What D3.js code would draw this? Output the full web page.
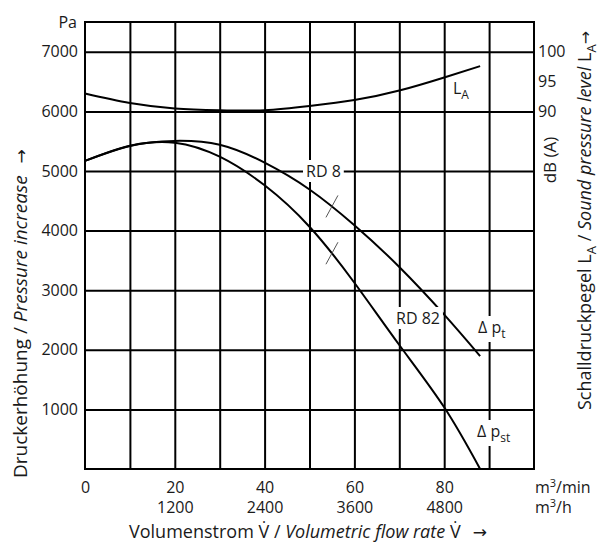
<!DOCTYPE html>
<html>
<head>
<meta charset="utf-8">
<script src="https://cdn.jsdelivr.net/npm/d3@7"></script>
<style>
  body { margin: 0; background: #fff; }
  svg { display: block; font-family: "Open Sans", sans-serif; }
</style>
</head>
<body>
<svg id="chart" width="600" height="547"></svg>
<script>
// Kennlinie: Volumenstrom in m3/min
const flow = [0, 10, 20, 30, 40, 50, 60, 70, 80, 88];
const pTotal = [5170, 5425, 5505, 5440, 5140, 4690, 4090, 3390, 2590, 1895];
const pStatic = [5170, 5420, 5475, 5240, 4760, 4065, 3125, 2080, 1035, 0];
const soundLevel = [93.0, 91.4, 90.5, 90.2, 90.2, 90.9, 91.9, 93.5, 95.7, 97.6];

const pressureTicks = [1000, 2000, 3000, 4000, 5000, 6000, 7000];
const flowTicks = [0, 20, 40, 60, 80];
const flowTicksH = [20, 40, 60, 80];
const dbTicks = [90, 95, 100];
const markerFlow = 55;

const svg = d3.select("#chart");
const ink = "#1a1a1a";

const plotL = 85, plotR = 534, plotT = 22, plotB = 469;

const x = d3.scaleLinear().domain([0, 100]).range([plotL, plotR]);
const y = d3.scaleLinear().domain([0, 7500]).range([plotB, plotT]);
// 90 dB liegt auf 6000 Pa, 100 dB auf 7000 Pa
const yDb = d3.scaleLinear().domain([30, 105]).range([plotB, plotT]);

// Gitter
const gridX = svg.append("g")
  .attr("transform", `translate(0,${plotB})`)
  .call(d3.axisBottom(x).tickValues(d3.range(10, 100, 10)).tickSize(-(plotB - plotT)).tickFormat(""));
const gridY = svg.append("g")
  .attr("transform", `translate(${plotL},0)`)
  .call(d3.axisLeft(y).tickValues(pressureTicks).tickSize(-(plotR - plotL)).tickFormat(""));
[gridX, gridY].forEach(g => {
  g.select(".domain").remove();
  g.selectAll("line").attr("stroke", "#000").attr("stroke-width", 2);
});

// Rahmen
svg.append("rect")
  .attr("x", plotL).attr("y", plotT)
  .attr("width", plotR - plotL).attr("height", plotB - plotT)
  .attr("fill", "none").attr("stroke", "#000").attr("stroke-width", 2);

// Achsenbeschriftung
const axL = svg.append("g")
  .attr("transform", `translate(${plotL},0)`)
  .call(d3.axisLeft(y).tickValues(pressureTicks).tickSize(0).tickPadding(7).tickFormat(d => d));
const axB = svg.append("g")
  .attr("transform", `translate(0,${plotB})`)
  .call(d3.axisBottom(x).tickValues(flowTicks).tickSize(0).tickPadding(13).tickFormat(d => d));
const axB2 = svg.append("g")
  .attr("transform", `translate(0,${plotB})`)
  .call(d3.axisBottom(x).tickValues(flowTicksH).tickSize(0).tickPadding(33).tickFormat(d => d * 60));
const axR = svg.append("g")
  .attr("transform", `translate(${plotR},0)`)
  .call(d3.axisRight(yDb).tickValues(dbTicks).tickSize(0).tickPadding(4).tickFormat(d => d));
[axL, axB, axB2, axR].forEach(g => {
  g.select(".domain").remove();
  g.selectAll("text")
    .attr("font-family", "Open Sans, sans-serif")
    .attr("font-size", 16)
    .attr("fill", ink);
});

// Kurven
const line = d3.line()
  .x((d, i) => x(flow[i]))
  .curve(d3.curveNatural);

const pathT = svg.append("path")
  .attr("d", line.y(d => y(d))(pTotal))
  .attr("fill", "none").attr("stroke", "#000").attr("stroke-width", 2);
const pathS = svg.append("path")
  .attr("d", line.y(d => y(d))(pStatic))
  .attr("fill", "none").attr("stroke", "#000").attr("stroke-width", 2);
svg.append("path")
  .attr("d", line.y(d => yDb(d))(soundLevel))
  .attr("fill", "none").attr("stroke", "#000").attr("stroke-width", 2);

// Punkt auf Pfad bei gegebenem x suchen
function pointAtX(path, px) {
  const node = path.node();
  let lo = 0, hi = node.getTotalLength();
  for (let k = 0; k < 40; k++) {
    const mid = (lo + hi) / 2;
    if (node.getPointAtLength(mid).x < px) lo = mid; else hi = mid;
  }
  return node.getPointAtLength(lo);
}

[pathT, pathS].forEach(p => {
  const pt = pointAtX(p, x(markerFlow));
  svg.append("line")
    .attr("x1", pt.x - 6).attr("y1", pt.y + 11)
    .attr("x2", pt.x + 6).attr("y2", pt.y - 11)
    .attr("stroke", "#555").attr("stroke-width", 1);
});

// Beschriftungen an den Kurven
function label(px, py, main, sub, bg) {
  const t = svg.append("text")
    .attr("x", px).attr("y", py)
    .attr("font-size", 16).attr("fill", ink)
    .text(main);
  if (sub) t.append("tspan").attr("font-size", 12).attr("dy", 5).text(sub);
  if (bg) {
    const b = t.node().getBBox();
    svg.insert("rect", () => t.node())
      .attr("x", b.x - 3).attr("y", b.y)
      .attr("width", b.width + 6).attr("height", b.height)
      .attr("fill", "#fff");
  }
  return t;
}

label(453, 94, "L", "A", false);
label(306, 177, "RD 8", null, true);
label(396, 324, "RD 82", null, true);
label(478, 333, "Δ p", "t", true);
label(477, 437, "Δ p", "st", true);

// Einheiten
svg.append("text")
  .attr("x", 77).attr("y", 28).attr("text-anchor", "end")
  .attr("font-size", 16).attr("fill", ink).text("Pa");

function unit(px, py, tail) {
  const t = svg.append("text").attr("x", px).attr("y", py)
    .attr("font-size", 16).attr("fill", ink).text("m");
  t.append("tspan").attr("font-size", 11).attr("dy", -6).text("3");
  t.append("tspan").attr("dy", 6).text(tail);
}
unit(535, 493, "/min");
unit(535, 513, "/h");

// Achsentitel
const arrowFont = "DejaVu Sans, sans-serif";
const tx = svg.append("text")
  .attr("x", 129).attr("y", 538)
  .attr("font-size", 18).attr("fill", ink);
tx.append("tspan").text("Volumenstrom V\u0307 / ");
tx.append("tspan").attr("font-style", "italic").text("Volumetric flow rate");
tx.append("tspan").text(" V\u0307");
tx.append("tspan").attr("dx", 12).attr("font-family", arrowFont).attr("font-size", 17).text("→");

const ty = svg.append("text")
  .attr("transform", "translate(27,478) rotate(-90)")
  .attr("font-size", 19).attr("fill", ink);
ty.append("tspan").text("Druckerhöhung / ");
ty.append("tspan").attr("font-style", "italic").text("Pressure increase");
ty.append("tspan").attr("dx", 12).attr("font-family", arrowFont).attr("font-size", 17).text("→");

svg.append("text")
  .attr("transform", "translate(556,160) rotate(-90)")
  .attr("text-anchor", "middle")
  .attr("font-size", 17).attr("fill", ink)
  .text("dB (A)");

const tr = svg.append("text")
  .attr("transform", "translate(591,410) rotate(-90)")
  .attr("font-size", 18).attr("fill", ink);
tr.append("tspan").text("Schalldruckpegel L");
tr.append("tspan").attr("font-size", 13).attr("dy", 5).text("A");
tr.append("tspan").attr("dy", -5).text(" / ");
tr.append("tspan").attr("font-style", "italic").text("Sound pressure level");
tr.append("tspan").text(" L");
tr.append("tspan").attr("font-size", 13).attr("dy", 5).text("A");
tr.append("tspan").attr("dy", -5).attr("font-family", arrowFont).attr("font-size", 16).text("→");
</script>
</body>
</html>
